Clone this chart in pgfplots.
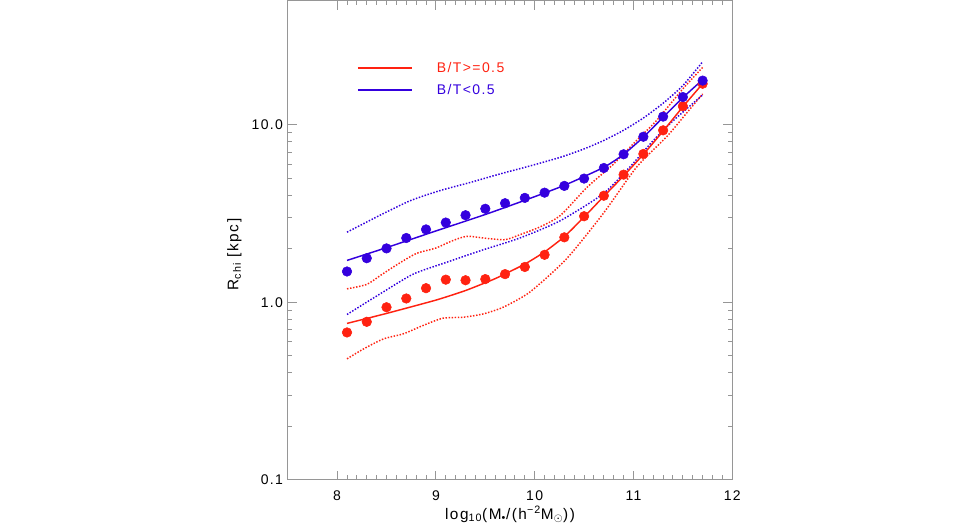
\documentclass[border=0pt]{standalone}
\usepackage{fontspec}
\setmainfont{Liberation Sans}[LetterSpace=10]
\usepackage{pgfplots}
\pgfplotsset{compat=1.18}
\definecolor{rred}{RGB}{255,34,17}
\definecolor{bblue}{RGB}{52,0,222}
\definecolor{axgray}{RGB}{150,150,150}

\pgfplotstableread{
x y
8.1 1.49
8.3 1.77
8.5 2.01
8.7 2.30
8.9 2.57
9.1 2.81
9.3 3.09
9.5 3.36
9.7 3.61
9.9 3.87
10.1 4.14
10.3 4.52
10.5 4.97
10.7 5.70
10.9 6.81
11.1 8.55
11.3 11.1
11.5 14.3
11.7 17.7
}\bluedots

\pgfplotstableread{
x y
8.1 0.676
8.3 0.776
8.5 0.937
8.7 1.05
8.9 1.20
9.1 1.34
9.3 1.33
9.5 1.35
9.7 1.44
9.9 1.58
10.1 1.85
10.3 2.32
10.5 3.05
10.7 3.98
10.9 5.23
11.1 6.84
11.3 9.29
11.5 12.7
11.7 17.0
}\reddots

\pgfplotstableread{
x y
8.1 1.72
8.5 2.03
9.0 2.52
9.5 3.12
9.9 3.75
10.3 4.55
10.7 5.75
10.9 6.8
11.1 8.5
11.3 11.0
11.5 14.2
11.7 17.9
}\blueline

\pgfplotstableread{
x y
8.1 0.76
8.5 0.865
9.0 1.028
9.3 1.164
9.6 1.358
9.9 1.64
10.1 1.92
10.3 2.34
10.5 3.02
10.7 3.95
10.9 5.15
11.1 6.8
11.3 9.2
11.5 12.6
11.7 17.0
}\redline

\pgfplotstableread{
x y
8.10 2.48
8.43 3.08
8.74 3.73
9.04 4.25
9.35 4.73
9.65 5.28
9.95 5.85
10.26 6.55
10.50 7.30
10.70 8.15
10.90 9.30
11.10 10.9
11.30 13.2
11.50 16.6
11.70 22.6
}\blueup

\pgfplotstableread{
x y
8.10 0.853
8.43 1.11
8.77 1.44
9.11 1.68
9.45 1.95
9.85 2.30
10.26 2.88
10.69 4.07
10.96 5.75
11.20 8.13
11.40 10.5
11.70 14.7
}\bluelow

\pgfplotstableread{
x y
8.10 1.19
8.30 1.26
8.45 1.43
8.60 1.62
8.80 1.88
9.00 2.02
9.15 2.20
9.31 2.35
9.51 2.29
9.70 2.25
9.85 2.40
10.05 2.65
10.26 3.08
10.53 4.44
10.80 6.01
11.03 8.13
11.23 10.5
11.50 15.9
11.70 21.0
}\redup

\pgfplotstableread{
x y
8.10 0.48
8.27 0.547
8.47 0.622
8.67 0.664
8.87 0.74
9.07 0.813
9.28 0.824
9.48 0.86
9.68 0.937
9.95 1.14
10.32 1.75
10.69 3.14
11.03 5.75
11.34 8.6
11.52 11.3
11.70 14.9
}\redlow

\begin{document}
\begin{tikzpicture}
\path (0pt,0pt) rectangle (720pt,393.75pt);
\begin{axis}[
  at={(215.8pt,34.2pt)}, anchor=south west,
  width=333.4pt, height=359.5pt, scale only axis,
  xmin=7.5, xmax=12, ymin=0.1, ymax=50, ymode=log,
  xtick={8,9,10,11,12}, minor x tick num=9,
  ytick={0.1,1,10}, yticklabels={0.1,1.0,10.0},
  tick align=inside, tick pos=both,
  major tick length=6.8pt, minor tick length=3.4pt,
  axis line style={axgray, line width=0.75pt},
  every tick/.style={axgray, line width=0.75pt},
  /pgf/number format/assume math mode=true,
  ticklabel style={font=\fontsize{10.5}{12}\selectfont, text=black},
  xticklabel style={yshift=-4.5pt},
  xlabel={log\textsubscript{10}(M\textsubscript{•}/(h\textsuperscript{−2}M\textsubscript{$\odot$}))},
  ylabel={R\textsubscript{chi} [kpc]},
  label style={font=\fontsize{11.5}{13}\selectfont},
  xlabel style={at={(axis description cs:0.5,-0.082)}, anchor=base},
  ylabel style={at={(axis description cs:-0.111,0.47)}, anchor=base},
  dots/.style={line width=1.1pt, dash pattern=on 1.1pt off 1.2pt, smooth, tension=0.4},
]
\addplot[rred, dots] table {\redup};
\addplot[rred, dots] table {\redlow};
\addplot[bblue, dots] table {\blueup};
\addplot[bblue, dots] table {\bluelow};
\addplot[only marks, mark=*, mark size=3.6pt, color=rred] table {\reddots};
\addplot[only marks, mark=*, mark size=3.6pt, color=bblue] table {\bluedots};
\addplot[rred, line width=1.1pt, smooth, tension=0.3] table {\redline};
\addplot[bblue, line width=1.1pt, smooth, tension=0.3] table {\blueline};
% legend lines
\addplot[rred, line width=1.1pt] coordinates {(8.21,20.9) (8.755,20.9)};
\addplot[bblue, line width=1.1pt] coordinates {(8.21,15.7) (8.755,15.7)};
\node[anchor=west, inner sep=0pt, text=rred, font=\fontsize{10.5}{12}\selectfont] at (axis description cs:0.335,0.860) {B/T>=0.5};
\node[anchor=west, inner sep=0pt, text=bblue, font=\fontsize{10.5}{12}\selectfont] at (axis description cs:0.335,0.814) {B/T<0.5};
\end{axis}
\end{tikzpicture}
\end{document}
